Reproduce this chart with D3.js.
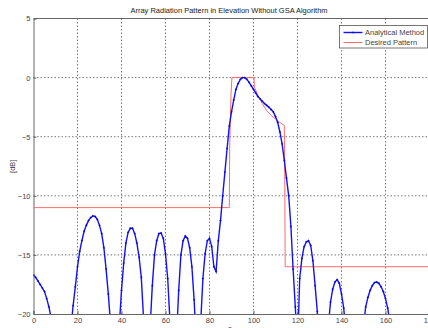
<!DOCTYPE html>
<html>
<head>
<meta charset="utf-8">
<script src="https://cdn.jsdelivr.net/npm/d3@7"></script>
<style>
  html, body { margin: 0; padding: 0; background: #fff; }
  svg { display: block; font-family: "Liberation Sans", Arial, sans-serif; }
</style>
</head>
<body>
<svg id="chart"></svg>
<script>
// Analytical pattern, one sample per degree starting at 0 deg (dB)
const analyticalDb = [
  -16.7, -16.9, -17.2, -17.5, -17.8, -18.1, -18.7, -19.4, -20.3, -21.8,
  -24.0, -28.0, -35.0, -30.0, -26.0, -24.0, -22.8, -21.3, -19.3, -17.7,
  -16.0, -14.7, -13.8, -13.0, -12.5, -12.1, -11.85, -11.7, -11.75, -12.0,
  -12.5, -13.2, -14.4, -16.2, -18.3, -20.8, -25.0, -32.0, -27.0, -21.0,
  -18.0, -15.7, -14.0, -13.1, -12.75, -12.75, -13.2, -14.0, -15.2, -16.9,
  -20.3, -25.0, -26.0, -21.2, -17.6, -15.0, -13.8, -13.2, -13.15, -13.6,
  -14.9, -17.0, -20.5, -27.0, -28.0, -22.0, -18.0, -15.0, -13.8, -13.4,
  -13.6, -14.4, -16.0, -18.8, -22.5, -27.0, -20.7, -17.0, -14.9, -13.8,
  -13.6, -14.3, -16.0, -16.4, -13.8, -12.1, -10.0, -8.0, -6.0, -4.1,
  -2.9, -1.9, -1.0, -0.5, -0.15, 0, 0, -0.15, -0.4, -0.7,
  -1.0, -1.3, -1.6, -1.8, -2.0, -2.2, -2.35, -2.5, -2.7, -2.9,
  -3.3, -3.8, -4.6, -5.6, -7.0, -8.5, -10.0, -12.6, -16.2, -19.4,
  -23.0, -17.0, -15.3, -14.3, -13.9, -13.8, -14.2, -15.5, -17.6, -19.8,
  -24.0, -31.0, -29.0, -24.0, -21.0, -19.0, -17.9, -17.3, -17.1, -17.4,
  -18.3, -19.5, -21.5, -26.0, -32.0, -36.0, -30.0, -27.0, -25.0, -23.0,
  -21.0, -19.4, -18.6, -18.0, -17.6, -17.35, -17.3, -17.4, -17.7, -18.1,
  -18.7, -19.5, -20.7, -23.0, -27.0, -30.0, -26.0, -23.5, -22.5, -22.0,
  -22.0, -22.3, -23.0, -24.5, -27.0, -32.0, -28.0, -25.0, -24.0, -23.5,
  -23.5
];

// Desired (mask) pattern breakpoints
const desiredAngle = [0, 89, 89.2, 89.8, 90.2, 100.2, 100.4, 102, 104, 106, 108, 110, 112, 114, 114.2, 114.4, 180];
const desiredDb    = [-11, -11, -5.5, -1.3, 0, 0, -0.8, -1.5, -2.2, -2.8, -3.2, -3.5, -3.8, -4.05, -8, -16, -16];

const xTicks = [0, 20, 40, 60, 80, 100, 120, 140, 160, 180];
const yTicks = [-20, -15, -10, -5, 0, 5];
const seriesNames = ["Analytical Method", "Desired Pattern"];

const width = 428;
const height = 328;

const svg = d3.select("#chart")
    .attr("width", width)
    .attr("height", height);

const x = d3.scaleLinear().domain([0, 180]).range([33.5, 429.5]);
const y = d3.scaleLinear().domain([-20, 5]).range([314, 18.5]);

// Title
svg.append("text")
    .attr("x", 229)
    .attr("y", 13)
    .attr("text-anchor", "middle")
    .style("font-size", "7.5px")
    .style("fill", "#222")
    .text("Array Radiation Pattern in Elevation Without GSA Algorithm");

// Clip path for the plot area
svg.append("defs").append("clipPath")
    .attr("id", "plot-clip")
    .append("rect")
    .attr("x", x(0))
    .attr("y", y(5))
    .attr("width", x(180) - x(0))
    .attr("height", y(-20) - y(5));

// Dotted grid
svg.selectAll(".vgrid")
    .data(xTicks.slice(1, -1))
    .enter()
    .append("line")
    .attr("x1", d => x(d)).attr("x2", d => x(d))
    .attr("y1", y(5)).attr("y2", y(-20))
    .attr("stroke", "#555")
    .attr("stroke-width", 0.8)
    .attr("stroke-dasharray", "1.5,2");

svg.selectAll(".hgrid")
    .data(yTicks.slice(1, -1))
    .enter()
    .append("line")
    .attr("x1", x(0)).attr("x2", x(180))
    .attr("y1", d => y(d)).attr("y2", d => y(d))
    .attr("stroke", "#555")
    .attr("stroke-width", 0.8)
    .attr("stroke-dasharray", "1.5,2");

// Axes with small inward ticks
const xAxis = d3.axisBottom(x).tickValues(xTicks).tickSize(-3).tickPadding(4);
const yAxis = d3.axisLeft(y).tickValues(yTicks).tickSize(-3).tickPadding(3);

const gx = svg.append("g")
    .attr("transform", `translate(0,${y(-20)})`)
    .call(xAxis);
const gy = svg.append("g")
    .attr("transform", `translate(${x(0)},0)`)
    .call(yAxis);

[gx, gy].forEach(g => {
    g.select(".domain").attr("stroke", "#666");
    g.selectAll(".tick line").attr("stroke", "#666");
    g.selectAll(".tick text")
        .style("font-size", "7.5px")
        .style("font-family", "Liberation Sans, Arial, sans-serif")
        .attr("fill", "#444");
});

// Top box line
svg.append("line")
    .attr("x1", x(0)).attr("x2", x(180))
    .attr("y1", y(5)).attr("y2", y(5))
    .attr("stroke", "#666");

// Axis labels
svg.append("text")
    .attr("transform", `translate(15,${(y(5) + y(-20)) / 2}) rotate(-90)`)
    .attr("text-anchor", "middle")
    .style("font-size", "7.5px")
    .style("fill", "#444")
    .text("[dB]");

svg.append("text")
    .attr("x", 230)
    .attr("y", 334)
    .attr("text-anchor", "middle")
    .style("font-size", "9px")
    .style("fill", "#444")
    .text("θ");

const plot = svg.append("g").attr("clip-path", "url(#plot-clip)");

// Desired pattern
const desired = desiredAngle.map((a, i) => ({ angle: a, db: desiredDb[i] }));
plot.append("path")
    .datum(desired)
    .attr("d", d3.line().x(d => x(d.angle)).y(d => y(d.db)))
    .attr("fill", "none")
    .attr("stroke", "#ff6a6a")
    .attr("stroke-width", 1);

// Analytical pattern
const analytical = analyticalDb.map((v, i) => ({ angle: i, db: v }));
plot.append("path")
    .datum(analytical)
    .attr("d", d3.line().x(d => x(d.angle)).y(d => y(d.db)))
    .attr("fill", "none")
    .attr("stroke", "#1010ff")
    .attr("stroke-width", 1.4);

// small '+' markers
const marker = "M-1.1,0H1.1M0,-1.1V1.1";
plot.selectAll(".marker")
    .data(analytical)
    .enter()
    .append("path")
    .attr("transform", d => `translate(${x(d.angle)},${y(d.db)})`)
    .attr("d", marker)
    .attr("stroke", "#0000cc")
    .attr("stroke-width", 0.6);

// Legend
const legend = svg.append("g").attr("transform", "translate(339.5,25.5)");
legend.append("rect")
    .attr("width", 88)
    .attr("height", 22.5)
    .attr("fill", "#fff")
    .attr("stroke", "#555")
    .attr("stroke-width", 0.8);

const legendColors = ["#1010ff", "#ff6a6a"];
seriesNames.forEach((name, i) => {
    const ly = 7 + i * 10;
    legend.append("line")
        .attr("x1", 4).attr("x2", 23)
        .attr("y1", ly).attr("y2", ly)
        .attr("stroke", legendColors[i])
        .attr("stroke-width", i === 0 ? 1.4 : 1);
    if (i === 0) {
        legend.append("path")
            .attr("transform", `translate(13.5,${ly})`)
            .attr("d", marker)
            .attr("stroke", "#0000cc")
            .attr("stroke-width", 0.6);
    }
    legend.append("text")
        .attr("x", 25.5)
        .attr("y", ly + 2.7)
        .style("font-size", "7.5px")
        .style("fill", "#444")
        .text(name);
});
</script>
</body>
</html>
